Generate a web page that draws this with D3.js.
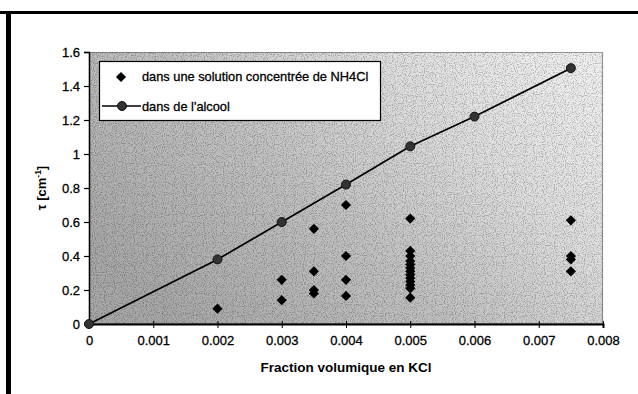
<!DOCTYPE html>
<html>
<head>
<meta charset="utf-8">
<script src="https://cdn.jsdelivr.net/npm/d3@7"></script>
<style>
  html, body { margin: 0; padding: 0; background: #fff; }
  svg { display: block; font-family: "Liberation Sans", Arial, Helvetica, sans-serif; }
</style>
</head>
<body>
<svg id="chart" width="638" height="394"></svg>
<script>
// Attenuation coefficient tau [cm^-1] versus KCl volume fraction
const seriesNames = ["dans une solution concentrée de NH4Cl", "dans de l'alcool"];

// NH4Cl solution measurements (scatter)
const nh4clX = [0.002, 0.003, 0.003, 0.0035, 0.0035, 0.0035, 0.0035,
                0.004, 0.004, 0.004, 0.004,
                0.005, 0.005, 0.005, 0.005, 0.005, 0.005, 0.005, 0.005, 0.005, 0.005, 0.005, 0.005, 0.005,
                0.0075, 0.0075, 0.0075, 0.0075];
const nh4clY = [0.09, 0.26, 0.14, 0.56, 0.31, 0.20, 0.18,
                0.70, 0.40, 0.26, 0.165,
                0.62, 0.43, 0.40, 0.37, 0.35, 0.33, 0.31, 0.29, 0.27, 0.25, 0.23, 0.21, 0.155,
                0.61, 0.40, 0.38, 0.31];

// Alcohol measurements (line with markers)
const alcoolX = [0, 0.002, 0.003, 0.004, 0.005, 0.006, 0.0075];
const alcoolY = [0, 0.38, 0.60, 0.82, 1.045, 1.22, 1.505];

const xTicks = [0, 0.001, 0.002, 0.003, 0.004, 0.005, 0.006, 0.007, 0.008];
const yTicks = [0, 0.2, 0.4, 0.6, 0.8, 1, 1.2, 1.4, 1.6];

const svg = d3.select("#chart");
const plot = { left: 89, right: 603, top: 52, bottom: 324 };

const x = d3.scaleLinear().domain([0, 0.008]).range([plot.left, plot.right]);
const y = d3.scaleLinear().domain([0, 1.6]).range([plot.bottom, plot.top]);

const defs = svg.append("defs");
const grad = defs.append("linearGradient").attr("id", "bg")
  .attr("x1", "0").attr("y1", "0.7").attr("x2", "1").attr("y2", "0.1");
grad.append("stop").attr("offset", "0").attr("stop-color", "#a8a8a8");
grad.append("stop").attr("offset", "0.4").attr("stop-color", "#c2c2c2");
grad.append("stop").attr("offset", "0.7").attr("stop-color", "#dedede");
grad.append("stop").attr("offset", "1").attr("stop-color", "#f0f0f0");

// stippled texture over the plot area
const grain = defs.append("filter").attr("id", "grain")
  .attr("x", 0).attr("y", 0).attr("width", 1).attr("height", 1)
  .attr("filterUnits", "objectBoundingBox");
grain.append("feTurbulence").attr("type", "fractalNoise")
  .attr("baseFrequency", 0.9).attr("numOctaves", 1).attr("seed", 3).attr("result", "n");
grain.append("feColorMatrix").attr("in", "n").attr("type", "matrix")
  .attr("values", "0 0 0 0 0  0 0 0 0 0  0 0 0 0 0  -5 0 0 0 2.6")
  .attr("result", "dots");
grain.append("feComposite").attr("in", "dots").attr("in2", "SourceGraphic").attr("operator", "in");

// outer frame (top and left edges)
svg.append("line").attr("x1", 0).attr("x2", 638).attr("y1", 12.5).attr("y2", 12.5)
  .attr("stroke", "#000").attr("stroke-width", 3);
svg.append("line").attr("x1", 8.5).attr("x2", 8.5).attr("y1", 11).attr("y2", 394)
  .attr("stroke", "#000").attr("stroke-width", 5);

// plot area
svg.append("rect")
  .attr("x", plot.left).attr("y", plot.top)
  .attr("width", plot.right - plot.left).attr("height", plot.bottom - plot.top)
  .attr("fill", "url(#bg)");
svg.append("rect")
  .attr("x", plot.left).attr("y", plot.top)
  .attr("width", plot.right - plot.left).attr("height", plot.bottom - plot.top)
  .attr("fill", "#000").attr("opacity", 0.22).attr("filter", "url(#grain)");
svg.append("rect")
  .attr("x", plot.left + 0.5).attr("y", plot.top + 0.5)
  .attr("width", plot.right - plot.left - 1).attr("height", plot.bottom - plot.top - 1)
  .attr("fill", "none").attr("stroke", "#444").attr("stroke-width", 1.2)
  .attr("stroke-dasharray", "1,1");

const textFont = "'Liberation Sans', Arial, sans-serif";

// axes
const xAxis = d3.axisBottom(x).tickValues(xTicks).tickSize(4).tickPadding(8)
  .tickFormat(d => d === 0 ? "0" : d3.format(".3f")(d));
const gx = svg.append("g").attr("transform", `translate(0,${plot.bottom})`).call(xAxis);
gx.select(".domain").attr("stroke", "#000").attr("stroke-width", 2);
gx.selectAll(".tick line").attr("stroke", "#000").attr("y1", -3);
gx.selectAll(".tick text").attr("font-size", 13).attr("fill", "#000")
  .attr("stroke", "#000").attr("stroke-width", 0.3).attr("font-family", textFont);

const yAxis = d3.axisLeft(y).tickValues(yTicks).tickSize(5).tickPadding(4)
  .tickFormat(d => d3.format("")(+d.toFixed(1)));
const gy = svg.append("g").attr("transform", `translate(${plot.left},0)`).call(yAxis);
gy.select(".domain").attr("stroke", "#000").attr("stroke-width", 1.5);
gy.selectAll(".tick line").attr("stroke", "#000").attr("stroke-width", 1.2);
gy.selectAll(".tick text").attr("font-size", 13).attr("fill", "#000")
  .attr("stroke", "#000").attr("stroke-width", 0.3).attr("font-family", textFont);

// axis titles
svg.append("text")
  .attr("x", 346).attr("y", 372)
  .attr("text-anchor", "middle").attr("font-size", 13.5).attr("font-weight", "bold")
  .text("Fraction volumique en KCl");

const yt = svg.append("text")
  .attr("transform", "translate(46,188) rotate(-90)")
  .attr("text-anchor", "middle").attr("font-size", 13).attr("font-weight", "bold");
yt.append("tspan").text("τ [cm");
yt.append("tspan").attr("font-size", 8.5).attr("dy", -5).text("-1");
yt.append("tspan").attr("dy", 5).text("]");

// alcohol series: line + circle markers
const line = d3.line().x((d, i) => x(alcoolX[i])).y(d => y(d));
svg.append("path").datum(alcoolY).attr("d", line)
  .attr("fill", "none").attr("stroke", "#000").attr("stroke-width", 1.7);

const diamond = d3.symbol().type(d3.symbolSquare).size(52);

svg.append("g").selectAll("circle").data(alcoolY).join("circle")
  .attr("cx", (d, i) => x(alcoolX[i])).attr("cy", d => y(d)).attr("r", 4.5)
  .attr("fill", "#333").attr("stroke", "#111").attr("stroke-width", 1);

// NH4Cl series: diamond markers
svg.append("g").selectAll("path").data(nh4clY).join("path")
  .attr("d", diamond)
  .attr("transform", (d, i) => `translate(${x(nh4clX[i])},${y(d)}) rotate(45)`)
  .attr("fill", "#000");

// legend
const leg = svg.append("g");
leg.append("rect").attr("x", 99.5).attr("y", 61.5).attr("width", 281).attr("height", 59)
  .attr("fill", "#fff").attr("stroke", "#000").attr("stroke-width", 1.2);
leg.append("path").attr("d", diamond)
  .attr("transform", "translate(121,77) rotate(45)").attr("fill", "#000");
leg.append("line").attr("x1", 102).attr("x2", 141).attr("y1", 106).attr("y2", 106)
  .attr("stroke", "#000").attr("stroke-width", 1.7);
leg.append("circle").attr("cx", 122).attr("cy", 106).attr("r", 4.5)
  .attr("fill", "#333").attr("stroke", "#111");
leg.selectAll("text.lab").data(seriesNames).join("text").attr("class", "lab")
  .attr("x", 142).attr("y", (d, i) => i === 0 ? 81 : 111)
  .attr("font-size", 12.8).attr("fill", "#000")
  .attr("stroke", "#000").attr("stroke-width", 0.3).attr("font-family", textFont)
  .text(d => d);
</script>
</body>
</html>
